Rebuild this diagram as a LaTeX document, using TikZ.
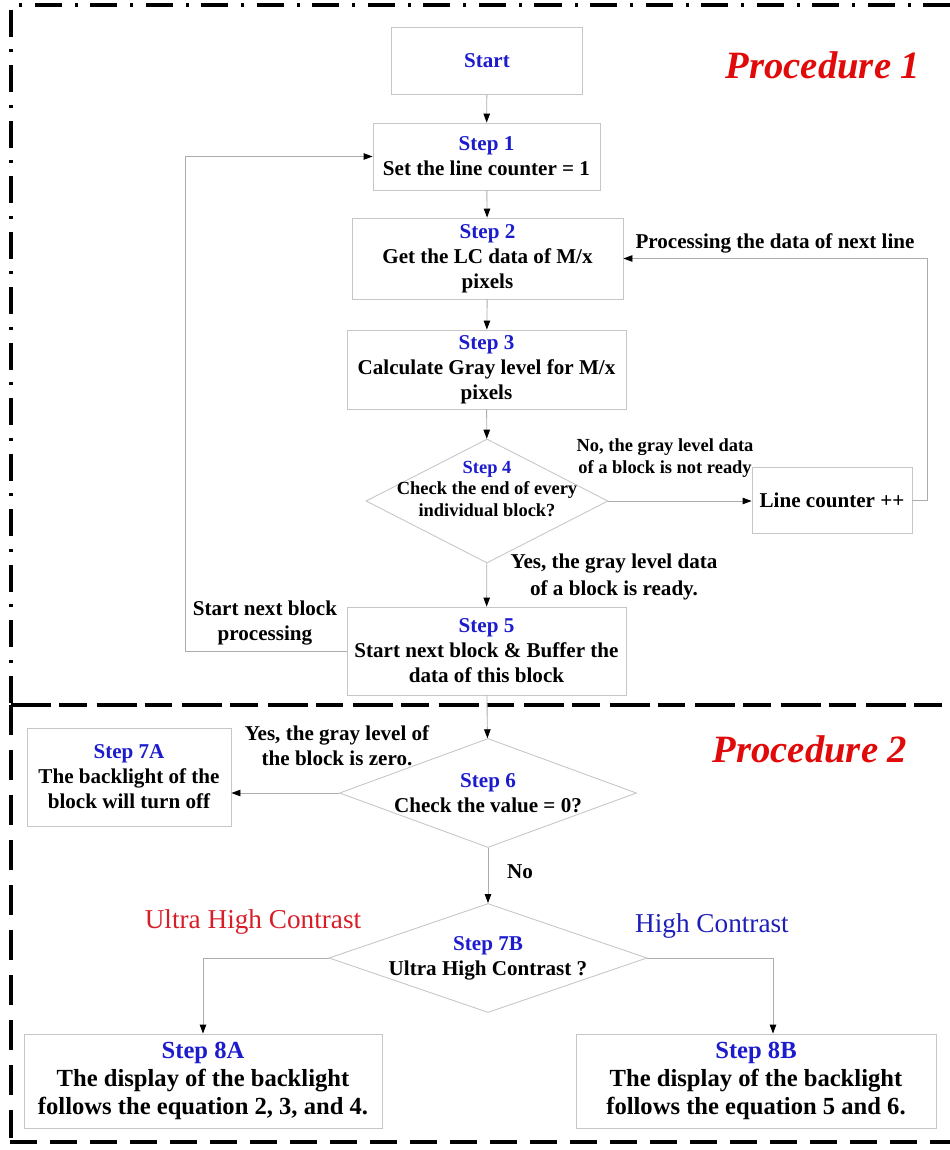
\documentclass[tikz,border=0pt]{standalone}
\usepackage{fontspec}
\setmainfont{Liberation Serif}
\usetikzlibrary{shapes.geometric,arrows.meta}
\definecolor{stepblue}{RGB}{28,28,205}
\definecolor{procred}{RGB}{225,10,10}
\definecolor{hcred}{RGB}{215,30,40}
\definecolor{hcblue}{RGB}{30,30,185}
\newcommand{\stp}[1]{{\color{stepblue}#1}}

\begin{document}
\begin{tikzpicture}[x=0.2mm, y=-0.2mm,
  every node/.style={font=\bfseries\fontsize{12}{14.2}\selectfont, align=center, inner sep=0pt},
  box/.style={draw=gray!45, line width=0.5pt, rectangle},
  dia/.style={draw=gray!45, line width=0.5pt, diamond},
  flow/.style={draw=gray!65, line width=0.5pt, -{Triangle[length=1.8mm,width=1.3mm,color=black]}},
  small/.style={font=\bfseries\fontsize{10.5}{12.5}\selectfont},
  big/.style={font=\bfseries\fontsize{14}{16}\selectfont},
  proc/.style={font=\bfseries\itshape\fontsize{22}{26}\selectfont, text=procred},
  mode/.style={font=\fontsize{15.5}{18}\selectfont},
  frame/.style={line width=1.9pt, black}]
\useasboundingbox (0,0) rectangle (950,1150);
\draw[frame, dash pattern=on 5.4mm off 2.5mm on 0.6mm off 2.6mm] (950,5) -- (11,5) -- (11,705);
\draw[frame, dash pattern=on 8mm off 1.6mm on 5.5mm off 2mm] (11,705) -- (950,705);
\draw[frame, dash pattern=on 6mm off 3mm] (11,705) -- (11,1138);
\draw[frame, line width=2.6pt, dash pattern=on 5.4mm off 2.6mm] (10,1142) -- (950,1142);

\node[box, minimum width=38.2mm, minimum height=13.4mm] (start) at (487,61) {\stp{Start}};
\node[box, minimum width=45.4mm, minimum height=13.4mm] (s1) at (486.5,156.5) {\stp{Step 1}\\Set the line counter = 1};
\node[box, minimum width=54.2mm, minimum height=16.2mm] (s2) at (487.5,258.5) {\stp{Step 2}\\Get the LC data of M/x\\pixels};
\node[box, minimum width=55.8mm, minimum height=15.8mm] (s3) at (486.5,369.5) {\stp{Step 3}\\Calculate Gray level for M/x\\pixels};
\node[dia, minimum width=48.4mm, minimum height=24.8mm] (s4) at (487,501) {};
\node[small] (s4t) at (487,489) {\stp{Step 4}\\Check the end of every\\individual block?};
\node[box, minimum width=32mm, minimum height=13.2mm] (lc) at (832,500) {Line counter ++};
\node[box, minimum width=55.8mm, minimum height=17.6mm] (s5) at (486.5,651) {\stp{Step 5}\\Start next block \& Buffer the\\data of this block};
\node[dia, minimum width=59.4mm, minimum height=21.8mm] (s6) at (488,793) {};
\node (s6t) at (488,793) {\stp{Step 6}\\Check the value = 0?};
\node[box, minimum width=40.8mm, minimum height=19.6mm] (s7a) at (129,777) {\stp{Step 7A}\\The backlight of the\\block will turn off};
\node[dia, minimum width=63.6mm, minimum height=21.8mm] (s7b) at (488,958) {};
\node (s7bt) at (488,958) {\stp{Step 7B}\\Ultra High Contrast ?};
\node[box, big, minimum width=71.6mm, minimum height=18.8mm] (s8a) at (203,1081) {\stp{Step 8A}\\The display of the backlight\\follows the equation 2, 3, and 4.};
\node[box, big, minimum width=72mm, minimum height=18.8mm] (s8b) at (756,1081) {\stp{Step 8B}\\The display of the backlight\\follows the equation 5 and 6.};
\coordinate (c8b) at (773,958);

\draw[flow] (start) -- (s1);
\draw[flow] (s1) -- (s2);
\draw[flow] (s2) -- (s3);
\draw[flow] (s3) -- (s4);
\draw[flow] (s4) -- (s5);
\draw[flow] (s5) -- (s6);
\draw[flow] (s6) -- (s7b);
\draw[flow] (s4.east) -- (s4.east -| lc.west);
\draw[flow] (lc.east) -- ++(15,0) |- (s2.east);
\draw[flow] (s5.west) -- ++(-161,0) |- (s1.west);
\draw[flow] (s6.west) -- (s6.west -| s7a.east);
\draw[flow] (s7b.west) -| (s8a.north);
\draw[flow] (s7b.east) -- (c8b) -- (c8b |- s8b.north);

\node (nxl) at (775,243) {Processing the data of next line};
\node[small] (notr) at (665,458) {No, the gray level data\\of a block is not ready};
\node[font=\bfseries\fontsize{12}{15.3}\selectfont] (rdy) at (614,577) {Yes, the gray level data\\of a block is ready.};
\node (nbp) at (265,623) {Start next block\\processing};
\node (zero) at (337,746) {Yes, the gray level of\\the block is zero.};
\node (no) at (520,872) {No};
\node[mode, text=hcred] (uhc) at (253,922) {Ultra High Contrast};
\node[mode, text=hcblue] (hc) at (712,926) {High Contrast};
\node[proc] (p1) at (823,65) {Procedure 1};
\node[proc] (p2) at (810,749) {Procedure 2};
\end{tikzpicture}
\end{document}
